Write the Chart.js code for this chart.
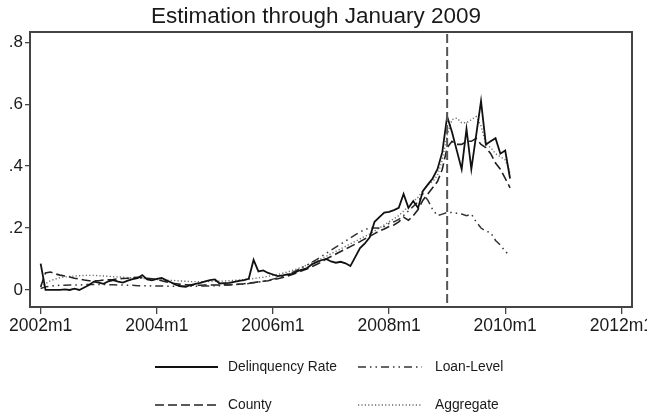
<!DOCTYPE html>
<html>
<head>
<meta charset="utf-8">
<title>Estimation through January 2009</title>
<script src="https://cdn.jsdelivr.net/npm/chart.js@4/dist/chart.umd.min.js"></script>
<style>
  html, body { margin: 0; padding: 0; background: #ffffff; }
  #chart { display: block; }
</style>
</head>
<body>
<canvas id="chart" width="647" height="417"></canvas>
<script>
// Monthly series, starting 2002m1 (index 0) and running through 2010m2.
const startYear = 2002;

const delinquencyRate = [
  0.085, 0.0, 0.0, 0.0, 0.0, 0.002, 0.0, 0.004, 0.0, 0.008, 0.016, 0.027,
  0.024, 0.02, 0.028, 0.032, 0.027, 0.024, 0.03, 0.035, 0.038, 0.048, 0.034, 0.031,
  0.036, 0.039, 0.031, 0.024, 0.016, 0.012, 0.01, 0.016, 0.02, 0.023, 0.028, 0.032,
  0.034, 0.021, 0.022, 0.023, 0.026, 0.029, 0.032, 0.036, 0.097, 0.06, 0.063, 0.055,
  0.05, 0.045, 0.047, 0.05, 0.052, 0.06, 0.066, 0.07, 0.082, 0.09, 0.096, 0.1,
  0.092, 0.088, 0.091, 0.086, 0.077, 0.106, 0.135, 0.15, 0.17, 0.22, 0.235, 0.25,
  0.252, 0.258, 0.265, 0.31, 0.265, 0.287, 0.265, 0.32, 0.34, 0.36, 0.39, 0.445,
  0.56, 0.51, 0.45, 0.39, 0.52, 0.39, 0.5, 0.61, 0.47, 0.48, 0.49, 0.44,
  0.45, 0.36
];

const loanLevel = [
  0.005, 0.01, 0.012, 0.014, 0.015, 0.015, 0.016, 0.016, 0.016, 0.017, 0.018, 0.018,
  0.018, 0.018, 0.017, 0.017, 0.016, 0.016, 0.015, 0.015, 0.014, 0.014, 0.014, 0.013,
  0.013, 0.013, 0.012, 0.012, 0.012, 0.012, 0.012, 0.012, 0.012, 0.013, 0.013, 0.013,
  0.014, 0.014, 0.015, 0.016, 0.017, 0.018, 0.019, 0.021, 0.023, 0.025, 0.028, 0.031,
  0.035, 0.039, 0.044, 0.05, 0.057, 0.064, 0.072, 0.08, 0.089, 0.098, 0.108, 0.118,
  0.128, 0.138, 0.148, 0.158, 0.168, 0.178, 0.187, 0.195, 0.2, 0.2, 0.2, 0.205,
  0.215, 0.22, 0.228, 0.24, 0.255, 0.27, 0.285, 0.31, 0.29, 0.26, 0.24, 0.245,
  0.25, 0.25, 0.248, 0.245, 0.24, 0.245, 0.22, 0.2, 0.19, 0.185, 0.16, 0.145,
  0.125, 0.11
];

const county = [
  0.01, 0.055, 0.058, 0.052, 0.048, 0.045, 0.042, 0.038, 0.035, 0.032, 0.03, 0.03,
  0.03, 0.032, 0.033, 0.034, 0.036, 0.037, 0.038, 0.04, 0.041, 0.04, 0.038, 0.036,
  0.034, 0.03, 0.026, 0.022, 0.02, 0.018, 0.017, 0.016, 0.015, 0.015, 0.016, 0.016,
  0.016, 0.016, 0.017, 0.017, 0.018, 0.019, 0.02, 0.022, 0.024, 0.026, 0.028, 0.03,
  0.033, 0.036, 0.04, 0.045, 0.05, 0.056, 0.062, 0.068, 0.075, 0.082, 0.09, 0.1,
  0.108, 0.116, 0.124, 0.132, 0.14, 0.148, 0.156, 0.165, 0.173, 0.182, 0.19, 0.197,
  0.205, 0.21, 0.22, 0.235, 0.225, 0.24, 0.26, 0.29, 0.31, 0.33, 0.35, 0.39,
  0.46, 0.48, 0.47, 0.47, 0.48, 0.48, 0.49, 0.47, 0.46, 0.44, 0.41, 0.39,
  0.36, 0.33
];

const aggregate = [
  0.01, 0.02, 0.03, 0.035, 0.04, 0.042, 0.044, 0.045, 0.046, 0.047, 0.047, 0.047,
  0.046, 0.045, 0.044, 0.043, 0.042, 0.041, 0.04, 0.039, 0.038, 0.037, 0.036, 0.035,
  0.034, 0.033, 0.032, 0.031, 0.03, 0.029, 0.028, 0.027, 0.027, 0.027, 0.027, 0.027,
  0.028, 0.028, 0.029, 0.03, 0.031, 0.032, 0.033, 0.035, 0.037, 0.039, 0.041, 0.044,
  0.047, 0.05, 0.054, 0.058, 0.063, 0.068, 0.074, 0.08, 0.087, 0.094, 0.101, 0.109,
  0.117, 0.125, 0.133, 0.141, 0.149, 0.157, 0.165, 0.173, 0.181, 0.19, 0.2, 0.21,
  0.22, 0.23, 0.24, 0.255, 0.27, 0.285, 0.3, 0.32, 0.34, 0.35, 0.37, 0.42,
  0.5, 0.55, 0.555, 0.54, 0.54, 0.55, 0.56, 0.53, 0.47, 0.46, 0.44, 0.43,
  0.42, 0.38
];

// Axis ticks: x positions are months since 2002m1.
const tickMonthsX = [0, 24, 48, 72, 96, 120];
const tickLabelsX = ['2002m1', '2004m1', '2006m1', '2008m1', '2010m1', '2012m1'];
const tickValuesY = [0, 0.2, 0.4, 0.6, 0.8];
const tickLabelsY = ['0', '.2', '.4', '.6', '.8'];

// End of the estimation window (2009m1).
const estimationEndMonth = 84;

const FONT = '"Liberation Sans", Arial, Helvetica, sans-serif';
const INK = '#1a1a1a';
const FRAME = '#444444';

const toPoints = arr => arr.map((v, i) => ({ x: i, y: v }));

// Order here fills the 2x2 key row by row.
const datasets = [
  { label: 'Delinquency Rate', data: toPoints(delinquencyRate), borderColor: '#111111', borderWidth: 1.8, borderDash: [] },
  { label: 'Loan-Level', data: toPoints(loanLevel), borderColor: '#333333', borderWidth: 1.5, borderDash: [8, 4, 1.5, 4, 1.5, 4] },
  { label: 'County', data: toPoints(county), borderColor: '#222222', borderWidth: 1.6, borderDash: [9, 4] },
  { label: 'Aggregate', data: toPoints(aggregate), borderColor: '#6a6a6a', borderWidth: 1.4, borderDash: [1.2, 2.2] }
].map(d => Object.assign(d, { pointRadius: 0, fill: false, tension: 0, backgroundColor: d.borderColor }));

// Vertical marker, plot frame and the two-column key.
const decorations = {
  id: 'decorations',
  beforeDraw(chart) {
    const ctx = chart.ctx;
    ctx.save();
    ctx.fillStyle = '#ffffff';
    ctx.fillRect(0, 0, chart.width, chart.height);
    ctx.restore();
  },
  afterDatasetsDraw(chart) {
    const { ctx, chartArea: a, scales } = chart;
    const x = scales.x.getPixelForValue(estimationEndMonth);
    ctx.save();
    ctx.strokeStyle = '#555555';
    ctx.lineWidth = 2;
    ctx.setLineDash([9, 4]);
    ctx.beginPath();
    ctx.moveTo(x, a.top + 2);
    ctx.lineTo(x, a.bottom);
    ctx.stroke();
    ctx.restore();
  },
  afterDraw(chart) {
    const { ctx, chartArea: a } = chart;
    ctx.save();
    ctx.strokeStyle = FRAME;
    ctx.lineWidth = 2;
    ctx.setLineDash([]);
    ctx.strokeRect(a.left, a.top, a.right - a.left, a.bottom - a.top);

    const cols = [{ x0: 155, x1: 218, tx: 228 }, { x0: 358, x1: 422, tx: 435 }];
    const rows = [367, 405];
    ctx.font = '13.8px ' + FONT;
    ctx.textBaseline = 'middle';
    ctx.textAlign = 'left';
    chart.data.datasets.forEach((ds, i) => {
      const c = cols[i % 2];
      const y = rows[Math.floor(i / 2)];
      ctx.strokeStyle = ds.borderColor;
      ctx.lineWidth = ds.borderWidth;
      ctx.setLineDash(ds.borderDash || []);
      ctx.beginPath();
      ctx.moveTo(c.x0, y);
      ctx.lineTo(c.x1, y);
      ctx.stroke();
      ctx.fillStyle = INK;
      ctx.fillText(ds.label, c.tx, y);
    });
    ctx.restore();
  }
};

new Chart(document.getElementById('chart'), {
  type: 'line',
  data: { datasets },
  plugins: [decorations],
  options: {
    responsive: false,
    animation: false,
    layout: { padding: { left: 0, right: 15, top: 0, bottom: 0 } },
    plugins: {
      legend: { display: false },
      tooltip: { enabled: false },
      title: {
        display: true,
        text: 'Estimation through January 2009',
        color: INK,
        font: { family: FONT, size: 22.5, weight: 'normal', lineHeight: 1.2 },
        padding: { top: 3, bottom: 2 }
      }
    },
    scales: {
      x: {
        type: 'linear',
        min: -2.2,
        max: 122.2,
        afterBuildTicks(axis) { axis.ticks = tickMonthsX.map(v => ({ value: v })); },
        afterFit(axis) { axis.height = 110; axis.paddingLeft = 0; axis.paddingRight = 0; },
        border: { display: false },
        grid: { display: true, drawOnChartArea: false, drawTicks: true, tickLength: 7, color: FRAME, lineWidth: 1.3 },
        ticks: {
          color: INK,
          font: { family: FONT, size: 17.5 },
          padding: 2,
          maxRotation: 0,
          autoSkip: false,
          callback: v => { const k = tickMonthsX.indexOf(v); return k >= 0 ? tickLabelsX[k] : ''; }
        }
      },
      y: {
        type: 'linear',
        min: -0.055,
        max: 0.833,
        afterBuildTicks(axis) { axis.ticks = tickValuesY.map(v => ({ value: v })); },
        afterFit(axis) { axis.width = 30; axis.paddingTop = 0; axis.paddingBottom = 0; },
        border: { display: false },
        grid: { display: true, drawOnChartArea: false, drawTicks: true, tickLength: 5, color: FRAME, lineWidth: 1.3 },
        ticks: {
          color: INK,
          font: { family: FONT, size: 17 },
          padding: 2,
          autoSkip: false,
          callback: v => { const k = tickValuesY.findIndex(t => Math.abs(t - v) < 1e-9); return k >= 0 ? tickLabelsY[k] : ''; }
        }
      }
    }
  }
});
</script>
</body>
</html>
